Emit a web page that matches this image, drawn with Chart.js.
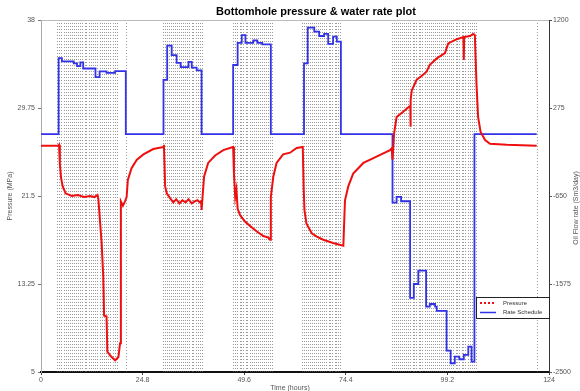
<!DOCTYPE html>
<html>
<head>
<meta charset="utf-8">
<script src="https://cdn.jsdelivr.net/npm/chart.js@4"></script>
<style>
  html, body { margin: 0; padding: 0; background: #fff; }
  canvas { display: block; }
</style>
</head>
<body>
<canvas id="bhp" width="580" height="391"></canvas>
<script>
// Data (time in hours)
var pressureTime = [0, 4.2, 4.4, 4.6, 4.9, 5.3, 6.0, 7.5, 9.0, 10.5, 12.0, 13.0, 13.8, 14.0, 14.8, 15.2, 15.4, 16.0, 16.2, 17.0, 18.1, 18.9, 19.3, 19.5, 20.0, 20.5, 20.9, 21.2, 22.1, 23.4, 25.0, 27.4, 29.9,
  30.0, 30.3, 30.7, 31.5, 32.3, 33.0, 33.8, 34.5, 35.3, 36.0, 36.8, 37.5, 38.2, 38.8, 39.1, 39.2, 39.8, 40.8, 42.5, 44.5, 46.9,
  47.1, 47.4, 47.7, 48.0, 48.6, 49.8, 51.0, 52.6, 54.3, 55.5, 55.9, 56.1, 56.7, 57.5, 59.1, 60.8, 62.4, 63.9,
  64.1, 64.3, 64.8, 66.1, 67.3, 68.9, 71.3, 73.8, 74.2, 75.0, 76.2, 78.7, 81.9, 85.2, 85.6,
  85.8, 86.2, 86.8, 88.4, 89.9, 90.15, 90.2, 90.25, 90.5, 91.7, 92.9, 94.1, 94.9, 96.6, 98.6, 99.4, 101.5, 103.1, 103.2, 103.3, 104.7, 105.5, 105.9,
  106.3, 106.7, 107.3, 108.4, 109.6, 113.7, 121.0];
var pressureMPa = [26.2, 26.2, 26.3, 24.5, 23.2, 22.4, 21.75, 21.5, 21.6, 21.4, 21.5, 21.4, 21.6, 21.2, 17.1, 13.9, 10.3, 10.2, 6.9, 6.5, 6.1, 6.4, 7.7, 21.0, 20.6, 21.0, 21.4, 23.0, 24.1, 24.9, 25.4, 25.9, 26.1,
  26.3, 22.4, 21.75, 21.3, 20.9, 21.2, 20.8, 21.1, 20.9, 21.2, 20.8, 21.0, 21.1, 20.9, 21.0, 20.2, 23.3, 24.6, 25.3, 25.8, 26.1,
  23.6, 21.4, 22.1, 20.3, 19.7, 19.1, 18.7, 18.2, 17.75, 17.6, 17.4, 21.4, 23.3, 24.6, 25.4, 25.56, 26.0, 26.1,
  22.5, 20.2, 18.9, 18.0, 17.7, 17.4, 17.1, 16.85, 21.1, 22.4, 23.6, 24.6, 25.2, 25.8, 25.97,
  24.9, 27.4, 28.9, 29.4, 29.9, 29.9, 28.0, 30.5, 31.4, 32.4, 32.75, 33.15, 33.8, 34.4, 34.9, 35.8, 36.2, 36.4, 34.25, 36.4, 36.5, 36.7, 36.6,
  32.0, 28.9, 27.5, 26.75, 26.4, 26.3, 26.2];

var rateTime = [0, 4.3, 5.1, 8.0, 8.8, 9.6, 10.3, 13.3, 14.3, 16.0, 18.1, 20.7,
  29.9, 30.8, 31.9, 33.1, 34.1, 36.0, 36.8, 38.0, 39.2,
  46.9, 48.0, 49.0, 49.9, 51.8, 52.8, 54.0, 56.1,
  64.2, 65.1, 66.7, 67.9, 69.1, 70.1, 71.3, 72.2, 73.2,
  85.8, 86.8, 87.9, 90.1, 91.0, 92.1, 94.0, 94.9, 96.2, 96.6, 99.0, 100.0, 101.0, 102.1, 103.2, 104.3, 105.1, 105.8, 121.0];
var rateSm3 = [0, 800, 765, 745, 715, 755, 690, 600, 660, 645, 662, 0,
  570, 930, 830, 750, 705, 760, 700, 670, 0,
  727, 960, 1040, 960, 985, 960, 944, 0,
  745, 1120, 1077, 1032, 1055, 950, 1025, 972, 0,
  -720, -660, -705, -1720, -1575, -1435, -1813, -1785, -1813, -1858, -2276, -2408, -2339, -2366, -2321, -2234, -2391, 0, 0];

// rate change events (vertical dotted markers)
var eventTimes = [4.0, 4.5, 5.0, 5.6, 6.1, 6.6, 7.1, 7.5, 8.1, 8.6, 9.0, 9.6, 10.1, 10.7, 11.1, 11.6, 12.2, 12.7, 13.2, 13.7, 14.3, 14.8, 15.4, 15.8, 16.4, 16.9, 17.5, 18.0, 18.5, 20.7,
  29.7, 30.2, 30.7, 31.2, 31.7, 32.1, 32.7, 33.2, 33.6, 34.2, 34.7, 35.1, 35.7, 36.2, 36.8, 37.2, 37.8, 38.3, 38.8, 39.2,
  46.9, 47.4, 47.9, 48.5, 48.9, 49.4, 50.0, 50.4, 50.9, 51.5, 51.9, 52.4, 53.0, 53.4, 53.9, 54.5, 54.9, 55.4, 55.9, 56.3,
  63.6, 64.1, 64.6, 65.1, 65.7, 66.1, 66.6, 67.2, 67.6, 68.1, 68.7, 69.1, 69.6, 70.2, 70.6, 71.1, 71.7, 72.1, 72.6, 73.1,
  85.6, 86.1, 86.6, 87.1, 87.7, 88.1, 88.6, 89.2, 89.6, 90.1, 90.7, 91.1, 91.6, 92.2, 92.6, 93.1, 93.7, 94.1, 94.6, 95.2,
  95.6, 96.1, 96.7, 97.1, 97.6, 98.2, 98.6, 99.1, 99.7, 100.1, 100.6, 101.2, 101.6, 102.1, 102.7, 103.1, 103.6, 104.2, 104.6, 105.1, 105.6, 106.1, 121.0];

var xTicks = [0, 24.8, 49.6, 74.4, 99.2, 124];
var pressureTicks = [5, 13.25, 21.5, 29.75, 38];
var rateTicks = [-2500, -1575, -650, 275, 1200];

function toPoints(xs, ys) {
  var pts = [];
  for (let i = 0; i < xs.length; i++) pts.push({x: xs[i], y: ys[i]});
  return pts;
}
function fixTicks(list) {
  return function(scale) { scale.ticks = list.map(function(v) { return {value: v}; }); };
}
function plain(v) { return String(v); }

var tickFont = {family: 'Liberation Sans, Arial, sans-serif', size: 7};
var tickColor = '#555';

// plot frame, event markers, titles and legend
var extras = {
  id: 'extras',
  beforeDatasetsDraw: function(chart) {
    var ctx = chart.ctx, a = chart.chartArea, xs = chart.scales.x;
    ctx.save();
    ctx.strokeStyle = 'rgba(100,100,100,0.65)';
    ctx.lineWidth = 1;
    ctx.setLineDash([1, 2]);
    eventTimes.forEach(function(t) {
      var px = Math.round(xs.getPixelForValue(t)) + 0.5;
      ctx.beginPath();
      ctx.moveTo(px, a.top);
      ctx.lineTo(px, a.bottom);
      ctx.stroke();
    });
    ctx.setLineDash([]);
    ctx.strokeStyle = '#bbb';
    ctx.beginPath();
    ctx.moveTo(a.left, a.top + 0.5);
    ctx.lineTo(a.right, a.top + 0.5);
    ctx.stroke();
    ctx.restore();
  },
  afterDraw: function(chart) {
    var ctx = chart.ctx;
    ctx.save();
    ctx.fillStyle = '#000';
    ctx.font = 'bold 11px Liberation Sans, Arial, sans-serif';
    ctx.textAlign = 'center';
    ctx.textBaseline = 'middle';
    ctx.fillText('Bottomhole pressure & water rate plot', 316, 12);

    ctx.fillStyle = '#555';
    ctx.font = '7px Liberation Sans, Arial, sans-serif';
    ctx.fillText('Time (hours)', 290, 388);
    ctx.save();
    ctx.translate(10, 196);
    ctx.rotate(-Math.PI / 2);
    ctx.fillText('Pressure (MPa)', 0, 0);
    ctx.restore();
    ctx.save();
    ctx.translate(576, 208);
    ctx.rotate(-Math.PI / 2);
    ctx.fillText('Oil Flow rate (Sm3/day)', 0, 0);
    ctx.restore();

    // legend box
    var lx = 476, ly = 297, lw = 73, lh = 21;
    ctx.fillStyle = '#fff';
    ctx.fillRect(lx, ly, lw, lh);
    ctx.strokeStyle = '#222';
    ctx.lineWidth = 1;
    ctx.strokeRect(lx + 0.5, ly + 0.5, lw, lh);
    var ds = chart.data.datasets;
    ctx.fillStyle = ds[0].borderColor;
    for (let i = 0; i < 4; i++) ctx.fillRect(lx + 4 + i * 4, ly + 5, 2, 2);
    ctx.strokeStyle = ds[1].borderColor;
    ctx.lineWidth = 1.5;
    ctx.beginPath();
    ctx.moveTo(lx + 4, ly + 15.5);
    ctx.lineTo(lx + 20, ly + 15.5);
    ctx.stroke();
    ctx.fillStyle = '#333';
    ctx.font = '6px Liberation Sans, Arial, sans-serif';
    ctx.textAlign = 'left';
    ctx.fillText(ds[0].label, lx + 27, ly + 6);
    ctx.fillText(ds[1].label, lx + 27, ly + 15.5);
    ctx.restore();
  }
};

var ctx = document.getElementById('bhp').getContext('2d');
var chart = new Chart(ctx, {
  type: 'scatter',
  data: {
    datasets: [{
      label: 'Pressure',
      data: toPoints(pressureTime, pressureMPa),
      yAxisID: 'y',
      showLine: true,
      borderColor: 'rgb(238,16,16)',
      borderWidth: 2,
      pointRadius: 0,
      tension: 0
    }, {
      label: 'Rate Schedule',
      data: toPoints(rateTime, rateSm3),
      yAxisID: 'y1',
      showLine: true,
      stepped: 'before',
      borderColor: 'rgb(50,50,230)',
      borderWidth: 1.8,
      pointRadius: 0
    }]
  },
  options: {
    responsive: false,
    animation: false,
    layout: {padding: {top: 20, left: 0, right: 0, bottom: 0}},
    plugins: {legend: {display: false}, tooltip: {enabled: false}},
    scales: {
      x: {
        type: 'linear', min: 0, max: 124,
        afterBuildTicks: fixTicks(xTicks),
        afterFit: function(s) { s.height = 19; },
        grid: {drawOnChartArea: false, tickLength: 3, color: '#444'},
        border: {color: '#111', width: 2},
        ticks: {font: tickFont, color: tickColor, padding: 1, maxRotation: 0, autoSkip: false, callback: plain}
      },
      y: {
        position: 'left', min: 5, max: 38,
        afterBuildTicks: fixTicks(pressureTicks),
        afterFit: function(s) { s.width = 41; },
        grid: {drawOnChartArea: false, tickLength: 3, color: '#777'},
        border: {color: '#aaa', width: 1},
        ticks: {font: tickFont, color: tickColor, padding: 3, callback: plain}
      },
      y1: {
        position: 'right', min: -2500, max: 1200,
        afterBuildTicks: fixTicks(rateTicks),
        afterFit: function(s) { s.width = 31; },
        grid: {drawOnChartArea: false, tickLength: 3, color: '#555'},
        border: {color: '#333', width: 1},
        ticks: {font: tickFont, color: tickColor, padding: 1, callback: plain}
      }
    }
  },
  plugins: [extras]
});
</script>
</body>
</html>
